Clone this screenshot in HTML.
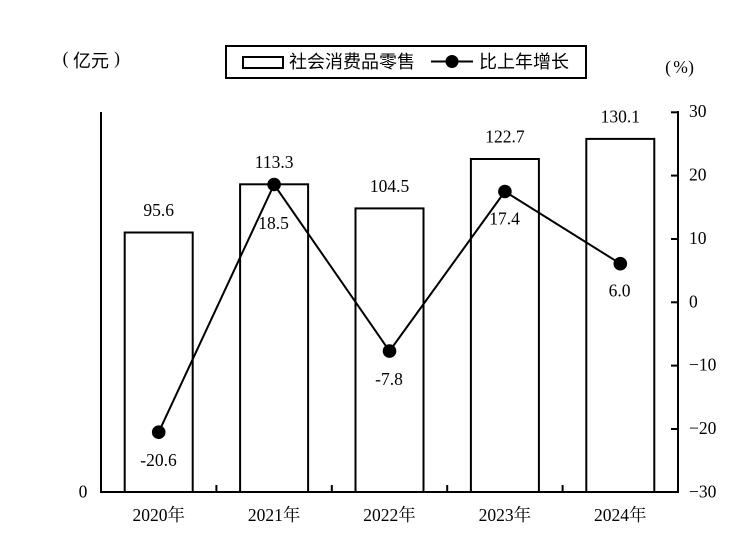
<!DOCTYPE html>
<html>
<head>
<meta charset="utf-8">
<style>
html,body{margin:0;padding:0;background:#fff;}
svg{display:block;}
.n{font-family:"Liberation Serif","Noto Serif CJK SC",serif;font-size:17.5px;fill:#000;}
.c{font-family:"Liberation Sans","Noto Sans CJK SC",sans-serif;font-size:18px;fill:#000;}
</style>
</head>
<body>
<svg width="750" height="559" viewBox="0 0 750 559" xmlns="http://www.w3.org/2000/svg">
<rect width="750" height="559" fill="#fff"/>

<!-- unit labels -->
<text x="65.5" y="64" class="n" font-size="16" text-anchor="middle">(</text>
<text x="73" y="67" class="c" font-size="19">亿元</text>
<text x="117" y="64" class="n" font-size="16" text-anchor="middle">)</text>

<text x="668" y="73" class="n" font-size="13" text-anchor="middle">(</text>
<text x="680.5" y="73" class="n" font-size="13" text-anchor="middle">%</text>
<text x="691" y="73" class="n" font-size="13" text-anchor="middle">)</text>

<!-- legend -->
<rect x="226" y="46" width="360" height="32" fill="none" stroke="#000" stroke-width="2"/>
<rect x="243" y="57" width="40" height="11" fill="none" stroke="#000" stroke-width="2"/>
<text x="289" y="68" class="c">社会消费品零售</text>
<line x1="431" y1="61.5" x2="473" y2="61.5" stroke="#000" stroke-width="2"/>
<circle cx="452" cy="61.5" r="6.5" fill="#000"/>
<text x="479" y="68" class="c">比上年增长</text>

<!-- axes -->
<line x1="101" y1="112" x2="101" y2="493" stroke="#000" stroke-width="2"/>
<line x1="100" y1="492" x2="679" y2="492" stroke="#000" stroke-width="2"/>
<line x1="678" y1="111" x2="678" y2="493" stroke="#000" stroke-width="2"/>

<!-- right ticks -->
<g stroke="#000" stroke-width="2">
<line x1="671" y1="112.3" x2="678" y2="112.3"/>
<line x1="671" y1="175.6" x2="678" y2="175.6"/>
<line x1="671" y1="239" x2="678" y2="239"/>
<line x1="671" y1="302.3" x2="678" y2="302.3"/>
<line x1="671" y1="365.6" x2="678" y2="365.6"/>
<line x1="671" y1="429" x2="678" y2="429"/>
<!-- category ticks -->
<line x1="216.4" y1="485" x2="216.4" y2="492"/>
<line x1="331.8" y1="485" x2="331.8" y2="492"/>
<line x1="447.2" y1="485" x2="447.2" y2="492"/>
<line x1="562.6" y1="485" x2="562.6" y2="492"/>
</g>

<!-- right tick labels -->
<g class="n">
<text x="689" y="117">30</text>
<text x="689" y="180.5">20</text>
<text x="689" y="244">10</text>
<text x="689" y="307.3">0</text>
<text x="689" y="370.6">−10</text>
<text x="689" y="434">−20</text>
<text x="689" y="497.3">−30</text>
</g>
<text x="83" y="497.5" class="n" text-anchor="middle">0</text>

<!-- bars -->
<g fill="none" stroke="#000" stroke-width="2">
<rect x="124.7" y="232.5" width="68" height="259.5"/>
<rect x="240.1" y="184.3" width="68" height="307.7"/>
<rect x="355.5" y="208.4" width="68" height="283.6"/>
<rect x="470.9" y="159" width="68" height="333"/>
<rect x="586.3" y="138.9" width="68" height="353.1"/>
</g>

<!-- bar labels -->
<g class="n" text-anchor="middle">
<text x="158.7" y="216">95.6</text>
<text x="274.1" y="168">113.3</text>
<text x="389.5" y="192">104.5</text>
<text x="504.9" y="142.7">122.7</text>
<text x="620.3" y="122.5">130.1</text>
</g>

<!-- line -->
<polyline points="158.7,432.2 274.1,184.5 389.5,351.1 504.9,191.5 620.3,263.7" fill="none" stroke="#000" stroke-width="2"/>
<g fill="#000">
<circle cx="158.7" cy="432.2" r="6.8"/>
<circle cx="274.1" cy="184.5" r="6.8"/>
<circle cx="389.5" cy="351.1" r="6.8"/>
<circle cx="504.9" cy="191.5" r="6.8"/>
<circle cx="620.3" cy="263.7" r="6.8"/>
</g>

<!-- line labels -->
<g class="n" text-anchor="middle">
<text x="158.5" y="466">-20.6</text>
<text x="273.5" y="229">18.5</text>
<text x="389" y="385">-7.8</text>
<text x="504.5" y="224.5">17.4</text>
<text x="619.5" y="296.5">6.0</text>
</g>

<!-- year labels -->
<g class="n" text-anchor="middle">
<text x="158.7" y="521">2020年</text>
<text x="274.1" y="521">2021年</text>
<text x="389.5" y="521">2022年</text>
<text x="504.9" y="521">2023年</text>
<text x="620.3" y="521">2024年</text>
</g>
</svg>
</body>
</html>
